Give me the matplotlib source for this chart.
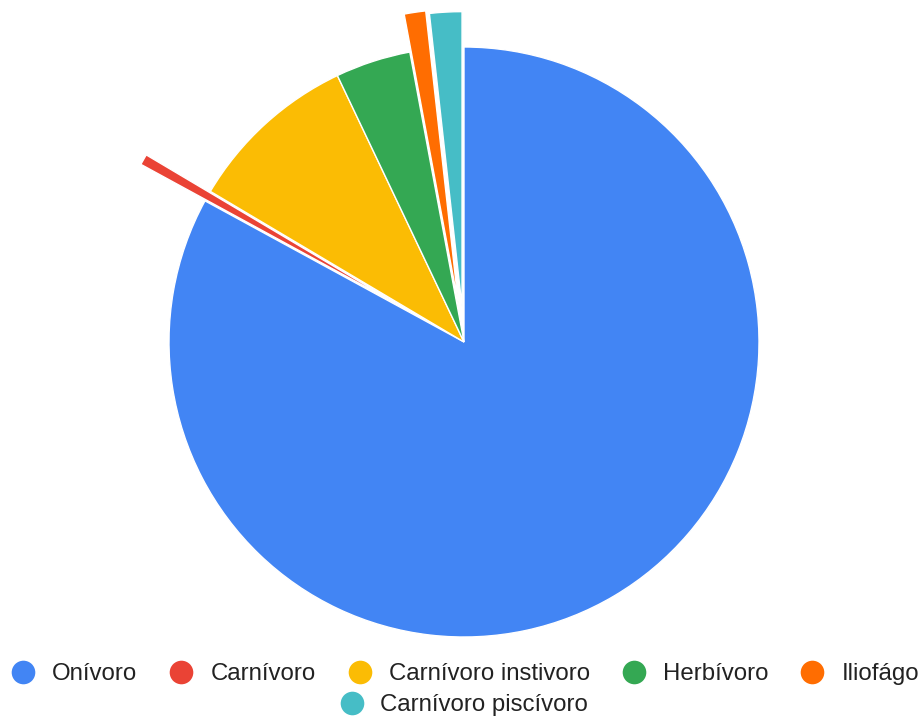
import matplotlib.pyplot as plt
from matplotlib.lines import Line2D

plt.rcParams['font.family'] = ['Liberation Sans', 'DejaVu Sans']

# datos (número de especies por grupo trófico)
categorias = ["Onívoro", "Carnívoro", "Carnívoro instivoro", "Herbívoro", "Iliofágo", "Carnívoro piscívoro"]
valores = [141, 1, 16, 7, 2, 3]
colores = ["#4285F4", "#EA4335", "#FBBC04", "#34A853", "#FF6D01", "#46BDC6"]
separacion = [0, 0.25, 0, 0, 0.13, 0.12]  # fracción del radio

W, H = 921, 720
R = 295
fig = plt.figure(figsize=(W / 100, H / 100), dpi=100)
ax = fig.add_axes([0, 0, 1, 1])

# en matplotlib explode va en unidades de datos
ax.pie(valores, colors=colores, explode=[s * R for s in separacion], startangle=90, counterclock=False,
       center=(464, H - 342), radius=R,
       wedgeprops=dict(edgecolor='white', linewidth=1.0))
ax.set_xlim(0, W)
ax.set_ylim(0, H)
ax.set_aspect('equal')
ax.axis('off')

# leyenda en dos filas, centrada
handles = [Line2D([], [], linestyle='none', marker='o', markersize=17, markerfacecolor=c,
                  markeredgecolor='none') for c in colores]
opts = dict(frameon=False, loc='center', fontsize=17.3, handlelength=1.0, handletextpad=0.7,
            columnspacing=1.34, borderpad=0, borderaxespad=0, labelcolor='#222222')
fig.legend(handles[:5], categorias[:5], ncol=5, bbox_to_anchor=(465 / W, 1 - 674 / H), **opts)
fig.legend(handles[5:], categorias[5:], ncol=1, bbox_to_anchor=(464 / W, 1 - 705 / H), **opts)

fig.savefig("out.png", dpi=100)
